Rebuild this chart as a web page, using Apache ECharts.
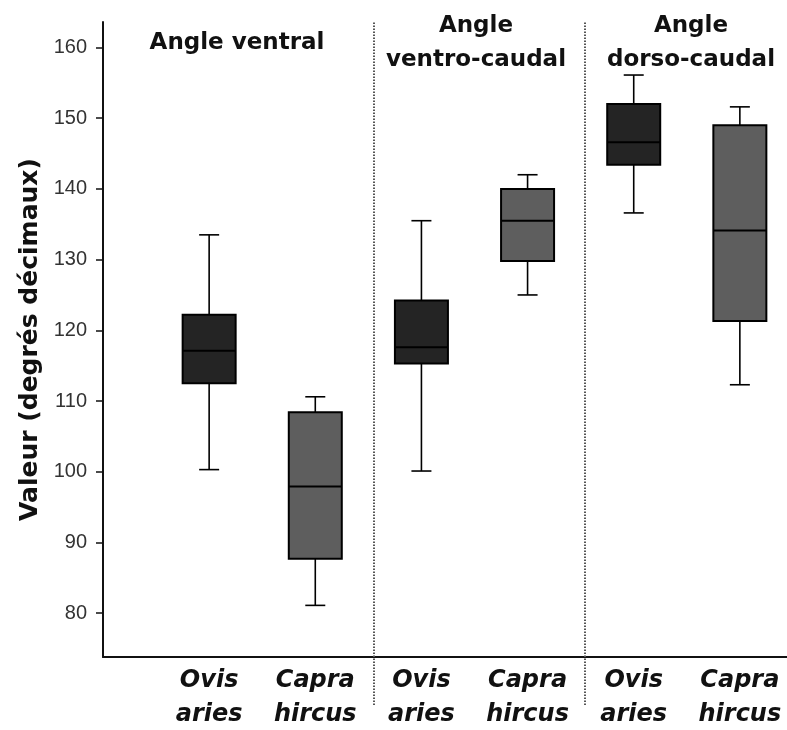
<!DOCTYPE html>
<html>
<head>
<meta charset="utf-8">
<script src="https://cdn.jsdelivr.net/npm/echarts@6/dist/echarts.min.js"></script>
<style>html,body{margin:0;padding:0;background:#fff}#c{width:787px;height:730px}</style>
</head>
<body>
<div id="c"></div>
<script>
// ---- data ----
const groupTitles = ['Angle ventral', 'Angle\nventro-caudal', 'Angle\ndorso-caudal'];
const categories = ['Ovis\naries', 'Capra\nhircus', 'Ovis\naries', 'Capra\nhircus', 'Ovis\naries', 'Capra\nhircus'];
const whiskerLow  = [100.3, 81.1, 100.1, 125.0, 136.6, 112.3];
const quartile1   = [112.5, 87.7, 115.3, 129.8, 143.4, 121.3];
const medianVal   = [117.1, 97.9, 117.6, 135.5, 146.6, 134.1];
const quartile3   = [122.2, 108.4, 124.2, 140.0, 152.0, 149.0];
const whiskerHigh = [133.5, 110.6, 135.5, 142.0, 156.1, 151.6];
const yTicks = [80, 90, 100, 110, 120, 130, 140, 150, 160];
const yTitle = 'Valeur (degrés décimaux)';
const dividerPos = [2.55, 4.54];

// ---- styling ----
const fillBySpecies = { 'Ovis\naries': '#242424', 'Capra\nhircus': '#5e5e5e' };
const axisData = [''].concat(categories, ['']);
const boxData = categories.map((c, i) => [i + 1, whiskerLow[i], quartile1[i], medianVal[i], quartile3[i], whiskerHigh[i]]);

const chart = echarts.init(document.getElementById('c'), null, { renderer: 'canvas' });

function renderBox(params, api) {
  const x = api.value(0);
  const pMin = api.coord([x, api.value(1)]);
  const pQ1 = api.coord([x, api.value(2)]);
  const pMed = api.coord([x, api.value(3)]);
  const pQ3 = api.coord([x, api.value(4)]);
  const pMax = api.coord([x, api.value(5)]);
  const cx = pMed[0];
  const hw = 26.5, cap = 10;
  const fill = fillBySpecies[categories[params.dataIndex]];
  const ls = { stroke: '#000', lineWidth: 1.6 };
  return {
    type: 'group',
    children: [
      { type: 'line', shape: { x1: cx, y1: pMax[1], x2: cx, y2: pQ3[1] }, style: ls },
      { type: 'line', shape: { x1: cx, y1: pQ1[1], x2: cx, y2: pMin[1] }, style: ls },
      { type: 'line', shape: { x1: cx - cap, y1: pMax[1], x2: cx + cap, y2: pMax[1] }, style: ls },
      { type: 'line', shape: { x1: cx - cap, y1: pMin[1], x2: cx + cap, y2: pMin[1] }, style: ls },
      { type: 'rect', shape: { x: cx - hw, y: pQ3[1], width: 2 * hw, height: pQ1[1] - pQ3[1] },
        style: { fill: fill, stroke: '#000', lineWidth: 2 } },
      { type: 'line', shape: { x1: cx - hw, y1: pMed[1], x2: cx + hw, y2: pMed[1] }, style: { stroke: '#000', lineWidth: 2 } }
    ]
  };
}

const titleCenters = [237, 476, 691];
const option = {
  backgroundColor: '#fff',
  animation: false,
  grid: [
    { left: 103, right: -59, top: 22, bottom: 73, containLabel: false, outerBoundsMode: 'none' },
    { left: 103, right: -59, top: 22, bottom: 25, containLabel: false, outerBoundsMode: 'none' }
  ],
  xAxis: [
    {
      type: 'category', gridIndex: 0, data: axisData, boundaryGap: false,
      axisLine: { show: true, lineStyle: { color: '#111', width: 2 } },
      axisTick: { show: false },
      splitLine: { show: false },
      axisLabel: {
        interval: 0, margin: 7, color: '#111',
        fontFamily: 'DejaVu Sans', fontWeight: 'bold', fontStyle: 'italic',
        fontSize: 24, lineHeight: 34
      }
    },
    { type: 'value', gridIndex: 1, min: 0, max: 7, show: false }
  ],
  yAxis: [
    {
      type: 'value', gridIndex: 0, min: 73.8, max: 163.6,
      name: yTitle, nameLocation: 'middle', nameRotate: 90, nameGap: 58,
      nameTextStyle: { fontFamily: 'DejaVu Sans', fontWeight: 'bold', fontSize: 25, color: '#111' },
      axisLine: { show: true, lineStyle: { color: '#111', width: 2 } },
      axisTick: { show: true, inside: false, length: 7, customValues: yTicks, lineStyle: { color: '#111', width: 1.5 } },
      axisLabel: { customValues: yTicks, margin: 16, color: '#333', fontFamily: 'Liberation Sans', fontSize: 20 },
      splitLine: { show: false }
    },
    { type: 'value', gridIndex: 1, min: 0, max: 1, show: false }
  ],
  graphic: groupTitles.map((t, i) => ({
    type: 'text', x: titleCenters[i], y: 43, silent: true,
    style: {
      text: t, textAlign: 'center', textVerticalAlign: 'middle', verticalAlign: 'middle', align: 'center',
      fontFamily: 'DejaVu Sans', fontWeight: 'bold', fontSize: 23, lineHeight: 34, fill: '#111'
    }
  })),
  series: [
    {
      type: 'custom', xAxisIndex: 0, yAxisIndex: 0, data: boxData,
      encode: { x: 0, y: [1, 2, 3, 4, 5] }, renderItem: renderBox, clip: false, silent: true
    },
    {
      type: 'line', xAxisIndex: 1, yAxisIndex: 1, data: [], silent: true,
      markLine: {
        silent: true, symbol: ['none', 'none'], label: { show: false },
        lineStyle: { type: [1.5, 1.5], color: '#555', width: 2 },
        data: dividerPos.map(v => ({ xAxis: v }))
      }
    }
  ]
};
chart.setOption(option);
</script>
</body>
</html>
